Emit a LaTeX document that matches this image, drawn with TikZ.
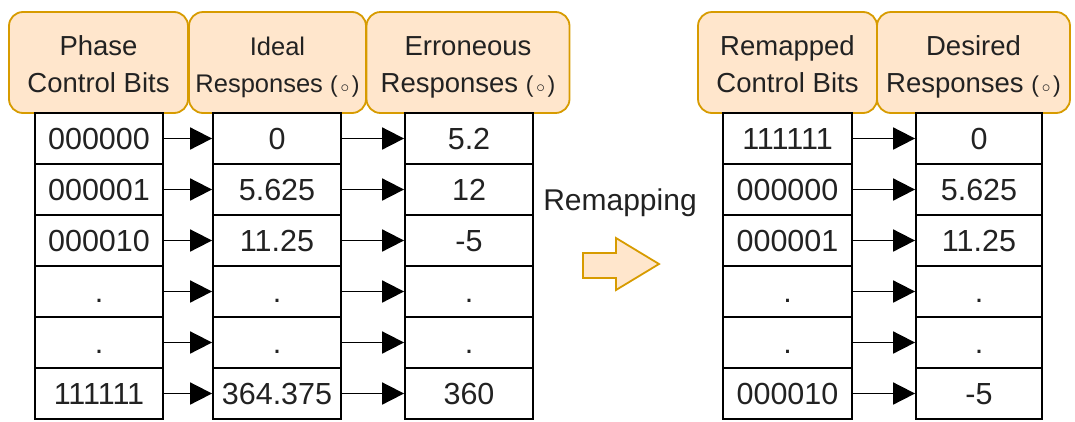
\documentclass[tikz,border=0pt]{standalone}
\usepackage{fontspec}
\setmainfont{Liberation Sans}
\usetikzlibrary{arrows.meta}
\definecolor{hdrfill}{HTML}{FFE6CC}
\definecolor{hdrline}{HTML}{D79B00}
\definecolor{txt}{HTML}{222222}
% small "(o)" degree unit used in the column titles
\newcommand{\degunit}{{\fontsize{23}{23}\selectfont(\kern0.12em$\scriptstyle\circ$\kern0.12em)}}
% invisible struts so that every two-line title sits at the same height
\newcommand{\topstrut}{\rule{0pt}{28pt}}
\newcommand{\botstrut}{\rule[-6pt]{0pt}{6pt}}
\begin{document}
\begin{tikzpicture}[x=1pt,y=-1pt,
  header/.style={draw=hdrline, fill=hdrfill, line width=1.8pt, rounded corners=14pt,
    align=center, text=txt, inner sep=0pt, minimum height=101pt},
  hdrfont/.style={font=\fontsize{27.5}{37}\selectfont},
  cell/.style={draw=black, fill=white, line width=1.8pt, minimum height=51pt,
    minimum width=128pt, inner sep=0pt, text height=21.8pt, text depth=0pt,
    font=\fontsize{30.5}{31}\selectfont, text=txt},
  conn/.style={line width=1.8pt, -{Triangle[length=22pt,width=22pt]}},
  shiftarrow/.style={draw=hdrline, fill=hdrfill, line width=1.8pt, line join=miter},
]
\useasboundingbox (0,0) rectangle (1075,421);

% column titles
\node[header, hdrfont, minimum width=179pt] (hphase) at (98.5,62.5)
  {\topstrut Phase\\Control Bits\botstrut};
\node[header, font=\fontsize{25.5}{37}\selectfont, minimum width=177pt] (hideal) at (277.5,62.5)
  {\topstrut Ideal\\Responses \degunit\botstrut};
\node[header, hdrfont, minimum width=203pt] (herr) at (468,62.5)
  {\topstrut Erroneous\\Responses \degunit\botstrut};
\node[header, hdrfont, minimum width=179pt] (hremap) at (787.5,62.5)
  {\topstrut Remapped\\Control Bits\botstrut};
\node[header, hdrfont, minimum width=193pt] (hdes) at (973.5,62.5)
  {\topstrut Desired\\Responses \degunit\botstrut};

% left table: control bits -> ideal -> erroneous
\foreach \a/\b/\c [count=\i] in {000000/0/5.2, 000001/5.625/12, 000010/11.25/-5,
    ./././, ./././, 111111/364.375/360} {
  \pgfmathsetmacro{\yc}{138.5+51*(\i-1)}
  \node[cell] (p\i) at (99,\yc) {\a};
  \node[cell] (i\i) at (277,\yc) {\b};
  \node[cell] (e\i) at (469,\yc) {\c};
  \draw[conn] (p\i) -- (i\i);
  \draw[conn] (i\i) -- (e\i);
}

% right table: remapped bits -> desired responses
\foreach \a/\b [count=\i] in {111111/0, 000000/5.625, 000001/11.25,
    ./., ./., 000010/-5} {
  \pgfmathsetmacro{\yc}{138.5+51*(\i-1)}
  \node[cell, minimum width=129pt] (r\i) at (787.5,\yc) {\a};
  \node[cell, minimum width=126pt] (d\i) at (979,\yc) {\b};
  \draw[conn] (r\i) -- (d\i);
}

% remapping step
\node[font=\fontsize{30}{31}\selectfont, text=txt] (lblremap) at (620,203) {Remapping};
\draw[shiftarrow] (583,253) -- (616,253) -- (616,238) -- (659,264) -- (616,290)
  -- (616,278) -- (583,278) -- cycle;
\end{tikzpicture}
\end{document}
